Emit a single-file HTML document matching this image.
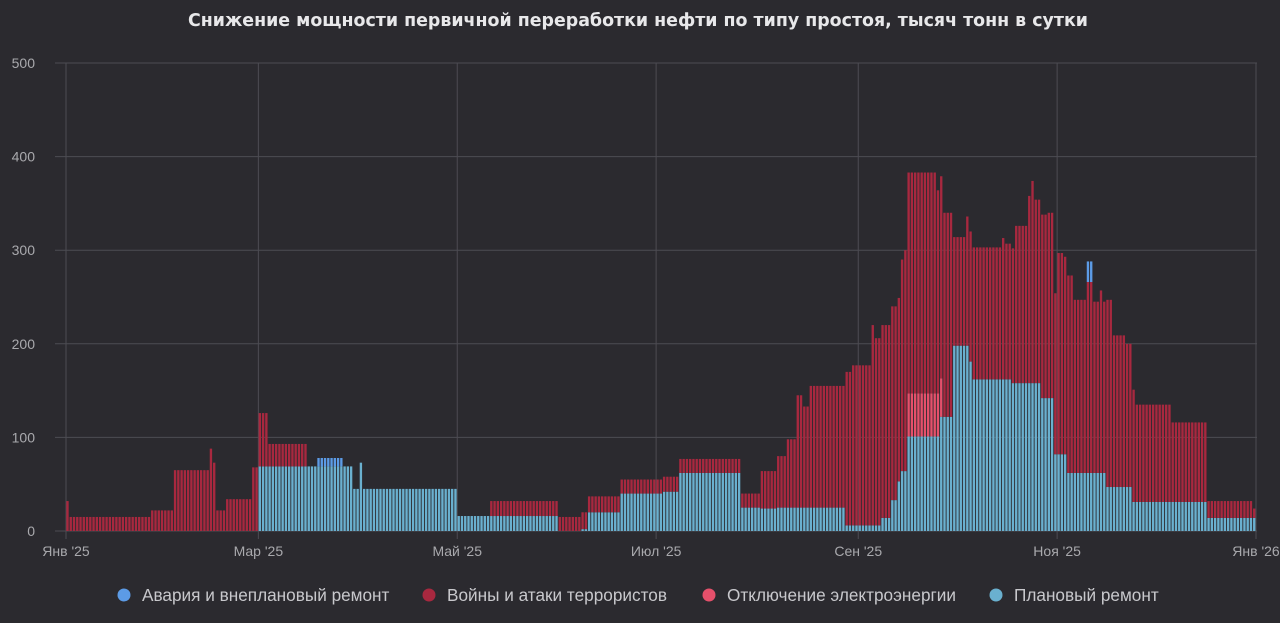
<!DOCTYPE html>
<html><head><meta charset="utf-8">
<style>
html,body{margin:0;padding:0;background:#2b2a2f;}
body{width:1280px;height:618px;overflow:hidden;font-family:"Liberation Sans","DejaVu Sans",sans-serif;}
</style></head>
<body>
<svg id="chart" width="1280" height="618" xmlns="http://www.w3.org/2000/svg">
<rect x="0" y="0" width="1280" height="618" fill="#2b2a2f"/>
<text x="638" y="26" text-anchor="middle" fill="#e8e8ea" font-size="17.4" font-weight="bold" font-family="'DejaVu Sans','Liberation Sans',sans-serif">Снижение мощности первичной переработки нефти по типу простоя, тысяч тонн в сутки</text>
<g id="grid"></g>
<g id="bars"></g>
<g id="axes"></g>
<g id="legend"></g>
</svg>
<script>
// Runs: [startDay, value] (value holds until next start day)
const plannedRuns = [[0,0],[59,69],[88,45],[90,73],[91,45],[120,16],[151,0],[158,2],[160,20],[170,40],[183,42],[188,62],[207,25],[213,24],[218,25],[239,6],[250,14],[253,33],[255,53],[256,64],[258,101],[268,122],[272,198],[277,181],[278,162],[290,158],[299,142],[303,82],[307,62],[319,47],[327,31],[350,14]];
const warRuns = [[0,32],[1,15],[26,22],[33,65],[44,88],[45,73],[46,22],[49,34],[57,68],[59,57],[62,24],[74,0],[130,16],[151,15],[158,18],[160,17],[170,15],[183,16],[188,15],[207,15],[213,40],[218,55],[221,73],[224,120],[226,108],[228,130],[239,164],[241,171],[247,214],[248,200],[250,206],[253,207],[255,196],[256,226],[257,236],[258,236],[267,217],[268,216],[269,218],[272,116],[276,138],[277,139],[278,141],[287,151],[288,145],[290,144],[291,168],[295,200],[296,216],[297,196],[299,196],[301,198],[303,172],[304,215],[306,211],[307,211],[309,185],[313,204],[315,183],[317,195],[318,183],[319,200],[321,162],[325,153],[327,120],[328,104],[339,85],[350,18],[364,10]];
const powerRuns = [[0,0],[258,46],[268,41],[269,0]];
const accidentRuns = [[0,0],[77,9],[85,0],[313,22],[315,0]];
const yTicks = [0,100,200,300,400,500];
const xTickDays = [0,59,120,181,243,304,365];
const xTickLabels = ["Янв '25","Мар '25","Май '25","Июл '25","Сен '25","Ноя '25","Янв '26"];
const seriesNames = ["Авария и внеплановый ремонт","Войны и атаки террористов","Отключение электроэнергии","Плановый ремонт"];
const seriesColors = ["#5c9be6","#a8283f","#e5506b","#6ab0cf"];

const NS="http://www.w3.org/2000/svg";
const X0=66, X1=1256, Y0=531, Y1=63, NDAYS=365;
function xs(d){return X0+(X1-X0)*d/NDAYS;}
function ys(v){return Y0-(Y0-Y1)*v/500;}
function expand(runs){const a=[];for(let i=0;i<runs.length;i++){const s=runs[i][0],e=i+1<runs.length?runs[i+1][0]:NDAYS;for(let d=s;d<e&&d<NDAYS;d++)a[d]=runs[i][1];}return a;}
function mk(tag,attrs,parent){const el=document.createElementNS(NS,tag);for(const k in attrs)el.setAttribute(k,attrs[k]);parent.appendChild(el);return el;}

const grid=document.getElementById('grid'),axes=document.getElementById('axes'),barsG=document.getElementById('bars'),legend=document.getElementById('legend');
yTicks.forEach(v=>{
  const l=mk('line',{x1:55,x2:1257,y1:ys(v),y2:ys(v),stroke:'#4d4c53','stroke-width':1},grid);
  
  
  const t=mk('text',{x:35,y:ys(v)+5,'text-anchor':'end',fill:'#a9a9ad','font-size':14},axes);
  t.textContent=v;
  
  
});
xTickDays.forEach((d,i)=>{
  const l=mk('line',{x1:xs(d),x2:xs(d),y1:Y1,y2:Y0+8,stroke:'#4d4c53','stroke-width':1},grid);
  
  
  const t=mk('text',{x:xs(d),y:556,'text-anchor':'middle',fill:'#a9a9ad','font-size':14},axes);
  t.textContent=xTickLabels[i];
  
  
});

const planned=expand(plannedRuns),war=expand(warRuns),power=expand(powerRuns),accident=expand(accidentRuns);
const bw=(X1-X0)/NDAYS;
for(let d=0;d<NDAYS;d++){
  const stack=[[planned[d],seriesColors[3],'bar-planned'],[power[d],seriesColors[2],'bar-power'],[war[d],seriesColors[1],'bar-war'],[accident[d],seriesColors[0],'bar-accident']];
  let base=0;
  stack.forEach(s=>{
    if(s[0]>0){
      const r=mk('rect',{x:xs(d)+0.3,y:ys(base+s[0]),width:bw-0.9,height:ys(base)-ys(base+s[0]),fill:s[1]},barsG);
      
      
      base+=s[0];
    }
  });
}
const lx=[124,429,709,996];
seriesNames.forEach((n,i)=>{
  const c=mk('circle',{cx:lx[i],cy:595,r:6.5,fill:seriesColors[i]},legend);
  
  
  const t=mk('text',{x:lx[i]+18,y:601,fill:'#c8c8cc','font-size':17.2},legend);
  t.textContent=n;
  
  
});
</script>
</body></html>
